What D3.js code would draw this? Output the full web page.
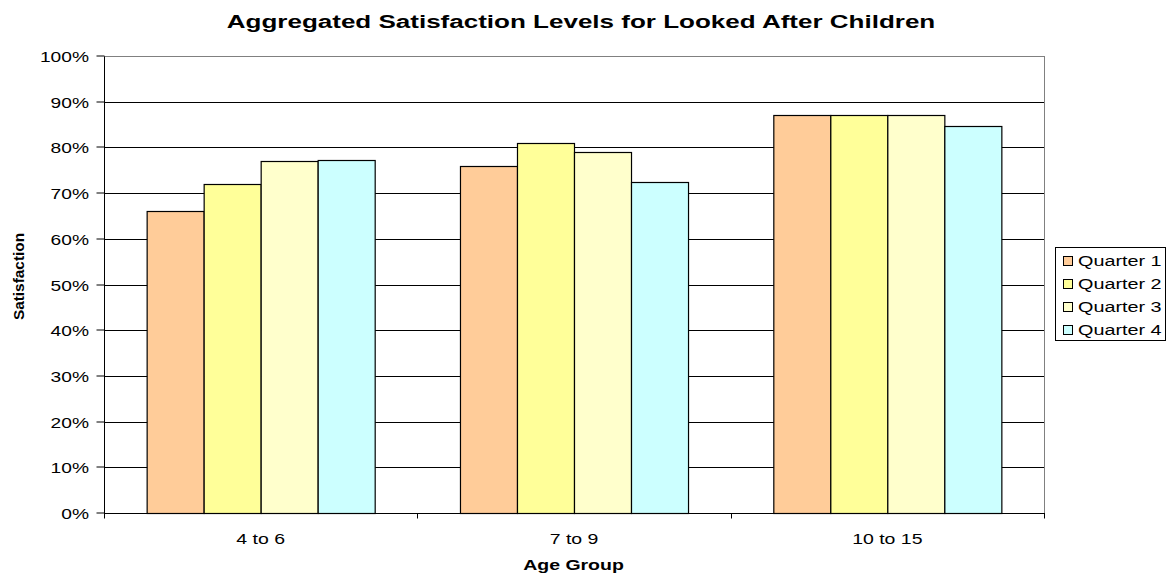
<!DOCTYPE html>
<html><head><meta charset="utf-8">
<script src="https://cdn.jsdelivr.net/npm/d3@7"></script>
<style>body{margin:0;background:#fff}svg{display:block}text{font-family:"Liberation Sans",Arial,sans-serif;fill:#000}</style>
</head><body><svg id="c" width="1166" height="573"></svg>
<script>
const categories = ["4 to 6", "7 to 9", "10 to 15"];
const seriesNames = ["Quarter 1", "Quarter 2", "Quarter 3", "Quarter 4"];
const q1 = [66, 76, 87];
const q2 = [72, 81, 87];
const q3 = [77, 79, 87];
const q4 = [77.2, 72.5, 84.7];
const yTicks = [0,10,20,30,40,50,60,70,80,90,100];
const colors = ["#FFCC99", "#FFFF99", "#FFFFCC", "#CCFFFF"];
const series = [q1, q2, q3, q4];

const svg = d3.select("#c");
const L = 104, R = 1044, T = 56, B = 513;
const SX = 1.3;
const x0 = d3.scaleBand().domain(categories).range([L, R]).padding(0);
const x1 = d3.scaleBand().domain(seriesNames).range([0, x0.bandwidth()]).paddingInner(0).paddingOuter(0.748);
const y = d3.scaleLinear().domain([0, 100]).range([B, T]);

function stext(parent, x, yy, str, opts) {
  const o = Object.assign({size: 15, anchor: "start", bold: false, sx: SX, rot: 0}, opts || {});
  return parent.append("text")
    .attr("transform", `translate(${x},${yy})${o.rot ? ` rotate(${o.rot})` : ""} scale(${o.sx},1)`)
    .attr("text-anchor", o.anchor).attr("font-size", o.size)
    .attr("font-weight", o.bold ? "bold" : "normal").text(str);
}

// grid lines
svg.append("g").selectAll("line").data(yTicks.filter(d => d > 0 && d < 100)).join("line")
  .attr("x1", L).attr("x2", R).attr("y1", d => Math.round(y(d)) + 0.5).attr("y2", d => Math.round(y(d)) + 0.5)
  .attr("stroke", "#000").attr("stroke-width", 1);
// plot border (top/right gray)
svg.append("rect").attr("x", L + 0.5).attr("y", Math.round(y(100)) + 0.5)
  .attr("width", R - L).attr("height", Math.round(y(0)) - Math.round(y(100)))
  .attr("fill", "none").attr("stroke", "#808080").attr("stroke-width", 1);

// bars
const g = svg.append("g");
categories.forEach((c, ci) => {
  series.forEach((s, si) => {
    g.append("rect")
      .attr("x", x0(c) + x1(seriesNames[si]) + 0.5)
      .attr("y", Math.round(y(s[ci])) + 0.5)
      .attr("width", x1.bandwidth())
      .attr("height", Math.round(y(0)) - Math.round(y(s[ci])))
      .attr("fill", colors[si]).attr("stroke", "#000").attr("stroke-width", 1.2);
  });
});

// y axis
const yAxis = d3.axisLeft(y).tickValues(yTicks).tickFormat("").tickSize(8);
const ya = svg.append("g").attr("transform", `translate(${L + 0.5},0.5)`).call(yAxis);
ya.select(".domain").attr("stroke", "#000").attr("d", `M0,${Math.round(y(100))}V${Math.round(y(0))}`);
ya.selectAll(".tick line").attr("stroke", "#000").attr("transform", "translate(0,-0.5)");
ya.selectAll(".tick").attr("transform", d => `translate(0,${Math.round(y(d))})`);
ya.selectAll(".tick text").remove();
const yl = svg.append("g");
yTicks.forEach(d => stext(yl, 89, Math.round(y(d)) + 5.5, d + "%", {anchor: "end", sx: 1.28}));

// x axis
const xa = svg.append("g").attr("transform", `translate(0,${Math.round(y(0)) + 0.5})`);
xa.append("line").attr("x1", L).attr("x2", R + 1).attr("stroke", "#000");
const bounds = categories.map(c => x0(c)).concat([R]);
xa.selectAll(".tk").data(bounds).join("line").attr("class", "tk")
  .attr("x1", d => Math.round(d) + 0.5).attr("x2", d => Math.round(d) + 0.5).attr("y1", 0).attr("y2", 5)
  .attr("stroke", "#000");
categories.forEach(c => stext(svg, x0(c) + x0.bandwidth() / 2, 544, c, {anchor: "middle"}));

// titles
stext(svg, 581, 28, "Aggregated Satisfaction Levels for Looked After Children", {anchor: "middle", size: 19, bold: true, sx: 1.37});
stext(svg, 573.5, 570, "Age Group", {anchor: "middle", bold: true});
stext(svg, 24, 276.5, "Satisfaction", {anchor: "middle", size: 14, bold: true, sx: 1.1, rot: -90});

// legend
const lg = svg.append("g");
lg.append("rect").attr("x", 1055.5).attr("y", 247.5).attr("width", 110).attr("height", 93)
  .attr("fill", "#fff").attr("stroke", "#000");
seriesNames.forEach((n, i) => {
  const cy = 260.7 + i * 22.8;
  lg.append("rect").attr("x", 1063.5).attr("y", Math.round(cy - 4.5) + 0.5).attr("width", 9).attr("height", 9)
    .attr("fill", colors[i]).attr("stroke", "#000");
  stext(lg, 1078, cy + 5.5, n, {sx: 1.32});
});
</script></body></html>
